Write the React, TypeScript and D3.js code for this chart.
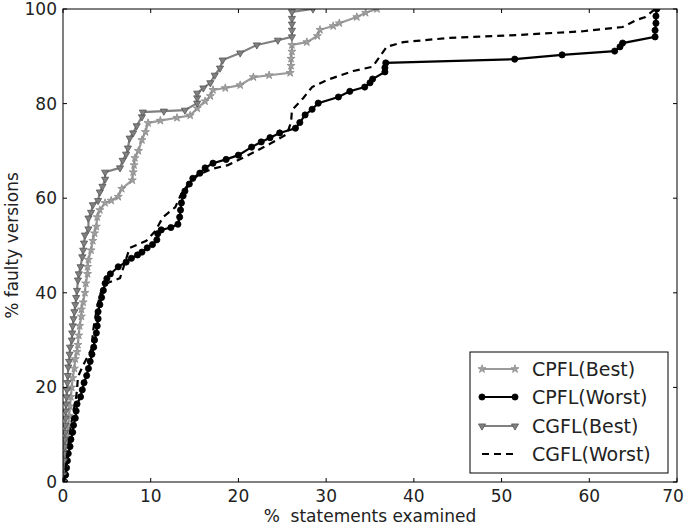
import React from "react";
import * as d3 from "d3";

// axis ticks
const xTicks = [0, 10, 20, 30, 40, 50, 60, 70];
const yTicks = [0, 20, 40, 60, 80, 100];

// [% statements examined, % faulty versions]
const cpflBest: [number, number][] = [
  [0, 0], [0.1, 2], [0.2, 4], [0.3, 6], [0.4, 8], [0.5, 10], [0.6, 12], [0.7, 14], [0.8, 16],
  [0.9, 18], [1.0, 20], [1.1, 22], [1.3, 24], [1.4, 26], [1.6, 27.5], [1.7, 29], [1.8, 31],
  [1.9, 33], [2.1, 35], [2.1, 36.5], [2.3, 38], [2.5, 40], [2.6, 42], [2.8, 44], [2.8, 45.5],
  [2.9, 47], [3.2, 49], [3.4, 51], [3.6, 52.6], [3.8, 54], [3.9, 56], [4.2, 57.5], [4.8, 59],
  [5.5, 59.5], [6.3, 60.3], [6.7, 62], [7.9, 63.8], [8.0, 65.5], [8.1, 67], [8.2, 68.5],
  [8.6, 70], [9.0, 72.3], [9.4, 74], [9.7, 75.9], [11.1, 76.4], [13.0, 77], [14.5, 77.5],
  [15.3, 79], [16.2, 80.5], [16.8, 81.6], [17.1, 82.9], [18.5, 83.3], [20.2, 83.9],
  [21.7, 85.6], [23.5, 86], [25.9, 86.5], [26.0, 88], [26.0, 89.5], [26.1, 91], [26.1, 92.4],
  [27.8, 93], [29.0, 94.3], [29.3, 95.6], [30.8, 96.4], [31.5, 97], [33.5, 98.3], [34.5, 99.2],
  [35.8, 100],
];

const cpflWorst: [number, number][] = [
  [0.2, 0], [0.3, 1.5], [0.4, 3], [0.5, 4.5], [0.6, 6], [0.8, 7.5], [0.9, 9], [1.1, 10.5],
  [1.2, 12], [1.4, 13.5], [1.5, 15], [1.6, 16.5], [2.0, 18], [2.2, 19.5], [2.4, 21], [2.7, 22.5],
  [2.9, 24], [3.1, 25.5], [3.3, 27], [3.5, 28.5], [3.6, 30], [3.8, 31.5], [3.9, 33], [4.0, 34.5],
  [4.0, 36], [4.2, 37.5], [4.4, 39], [4.6, 40.5], [4.8, 42], [5.0, 43], [5.4, 44], [6.3, 45.5],
  [7.2, 46.5], [7.8, 47.3], [8.5, 48], [9.0, 48.6], [9.6, 49.5], [10.2, 50.2], [10.7, 51.2],
  [10.8, 52.5], [11.2, 53.3], [12.3, 53.8], [13.1, 54.5], [13.3, 56], [13.4, 57.5], [13.5, 59],
  [13.7, 60.5], [13.9, 61.5], [14.4, 63], [14.8, 64.2], [15.6, 65.3], [16.2, 66.4], [17.1, 67.4],
  [18.6, 68.2], [20.0, 69.1], [21.5, 70.8], [22.6, 71.9], [23.6, 72.8], [24.7, 73.8],
  [26.5, 74.8], [27.0, 76], [27.6, 77.6], [28.4, 78.8], [29.1, 80.1], [31.4, 81.4], [32.7, 82.6],
  [34.4, 83.5], [35.0, 84.4], [35.3, 85.2], [36.7, 86.7], [36.7, 87.6], [36.8, 88.6],
  [51.5, 89.4], [56.9, 90.3], [62.9, 91.1], [63.5, 92], [63.8, 92.8], [67.5, 94.1], [67.5, 95.5],
  [67.6, 97], [67.6, 98.5], [67.7, 100],
];

const cgflBest: [number, number][] = [
  [0, 0], [0, 1.5], [0.1, 3], [0.1, 4.5], [0.15, 6], [0.2, 7.5], [0.2, 9], [0.25, 10.5],
  [0.25, 12], [0.3, 13.5], [0.3, 15], [0.35, 16.5], [0.4, 18], [0.45, 19.5], [0.5, 21],
  [0.55, 22.5], [0.6, 24.3], [0.7, 25.5], [0.75, 27], [0.8, 28.5], [1.0, 30], [1.05, 31.5],
  [1.1, 33], [1.2, 34.5], [1.3, 36], [1.4, 37.5], [1.5, 39], [1.6, 40.5], [1.7, 42.7], [1.8, 44],
  [2.0, 45.5], [2.2, 47.6], [2.3, 49], [2.4, 50.5], [2.5, 52.2], [2.9, 53.5], [2.9, 55.8],
  [3.2, 57], [3.4, 58.6], [4.0, 59.5], [4.2, 61.3], [4.5, 62.5], [4.8, 64], [4.8, 65.5],
  [6.5, 66.4], [6.8, 68], [7.2, 69.3], [7.4, 70.6], [7.6, 72.7], [8.0, 73.8], [8.4, 75.3],
  [9.0, 77.2], [9.1, 78.2], [11.5, 78.4], [13.9, 78.6], [15.3, 80.1], [15.3, 81.2], [15.3, 82.2],
  [16.0, 83.3], [16.8, 84.4], [17.3, 86], [17.9, 87.5], [18.2, 89.2], [20.2, 90.7], [22.1, 92.4],
  [24.5, 93.4], [26.1, 94.1], [26.1, 95.5], [26.1, 96.8], [26.1, 98], [26.1, 99.4], [28.5, 100],
];

const cgflWorst: [number, number][] = [
  [0.1, 0], [0.3, 3], [0.5, 6], [0.7, 9], [0.9, 12], [1.2, 15], [1.5, 18], [1.6, 19.5],
  [1.7, 22.2], [2.3, 24.7], [2.8, 26.5], [3.3, 28.3], [3.4, 31.5], [3.6, 34], [3.9, 37],
  [4.3, 40], [5.0, 42], [6.5, 43.1], [7.0, 46], [7.6, 49.5], [9.5, 51], [10.5, 53], [11.4, 56],
  [12.8, 58.1], [13.5, 61], [14.5, 63.5], [15.5, 65], [17.0, 66.2], [18.8, 67], [21, 69],
  [23.6, 71.5], [25.5, 73.5], [26.0, 76], [26.1, 78.6], [27.4, 81.2], [28.4, 83.5], [30.1, 85],
  [33.1, 86.9], [35.3, 87.8], [36.9, 92], [38.8, 93], [44.1, 93.9], [51.8, 94.5], [59.3, 95.3],
  [63.8, 96.2], [65.4, 97.7], [66.4, 98.3], [67.5, 100],
];

type Series = {
  name: string;
  data: [number, number][];
  color: string;
  marker: "star" | "circle" | "tri" | null;
  fill: string;
  edge: string;
  dash?: string;
};

const series: Series[] = [
  { name: "CPFL(Best)", data: cpflBest, color: "#9a9a9a", marker: "star", fill: "#a0a0a0", edge: "#8a8a8a" },
  { name: "CPFL(Worst)", data: cpflWorst, color: "#000000", marker: "circle", fill: "#000000", edge: "#000000" },
  { name: "CGFL(Best)", data: cgflBest, color: "#808080", marker: "tri", fill: "#808080", edge: "#555555" },
  { name: "CGFL(Worst)", data: cgflWorst, color: "#000000", marker: null, fill: "none", edge: "none", dash: "7,5" },
];

const W = 685;
const H = 527;
const left = 63;
const right = 677;
const top = 9;
const bottom = 482;

const FONT = "'DejaVu Sans', sans-serif";

const symbolPath = (m: Series["marker"]) => {
  if (m === "star") return d3.symbol(d3.symbolStar, 20)() as string;
  if (m === "circle") return d3.symbol(d3.symbolCircle, 30)() as string;
  if (m === "tri") return d3.symbol(d3.symbolTriangle, 22)() as string;
  return "";
};

const Marker = ({ s, x, y }: { s: Series; x: number; y: number }) => {
  if (!s.marker) return null;
  const rot = s.marker === "tri" ? " rotate(180)" : "";
  return (
    <path
      d={symbolPath(s.marker)}
      transform={`translate(${x},${y})${rot}`}
      fill={s.fill}
      stroke={s.edge}
      strokeWidth={0.8}
    />
  );
};

const App = () => {
  const x = d3.scaleLinear().domain([0, 70]).range([left, right]);
  const y = d3.scaleLinear().domain([0, 100]).range([bottom, top]);
  const line = d3
    .line<[number, number]>()
    .x((d) => x(d[0]))
    .y((d) => y(d[1]));

  const legendRows = [369, 397, 426, 454];

  return (
    <svg
      width={W}
      height={H}
      style={{ position: "absolute", left: 0, top: 0, background: "#fff" }}
      fontFamily={FONT}
    >
      <defs>
        <clipPath id="plot">
          <rect x={left} y={top} width={right - left} height={bottom - top} />
        </clipPath>
      </defs>
      <rect x={0} y={0} width={W} height={H} fill="#fff" />

      {/* series */}
      <g clipPath="url(#plot)">
        {series.map((s) => (
          <g key={s.name}>
            <path
              d={line(s.data) as string}
              fill="none"
              stroke={s.color}
              strokeWidth={2.2}
              strokeDasharray={s.dash}
            />
            {s.data.map((d, i) => (
              <Marker key={i} s={s} x={x(d[0])} y={y(d[1])} />
            ))}
          </g>
        ))}
      </g>

      {/* frame and ticks */}
      <rect x={left} y={top} width={right - left} height={bottom - top} fill="none" stroke="#000" strokeWidth={1} />
      {xTicks.map((t) => (
        <g key={"x" + t}>
          <line x1={x(t)} x2={x(t)} y1={bottom} y2={bottom - 4} stroke="#000" />
          <line x1={x(t)} x2={x(t)} y1={top} y2={top + 4} stroke="#000" />
          <text
            x={t === 70 ? x(t) - 4 : x(t)}
            y={496}
            textAnchor="middle"
            dominantBaseline="central"
            fontSize={17}
            fill="#222"
          >
            {t}
          </text>
        </g>
      ))}
      {yTicks.map((t) => (
        <g key={"y" + t}>
          <line x1={left} x2={left + 4} y1={y(t)} y2={y(t)} stroke="#000" />
          <line x1={right} x2={right - 4} y1={y(t)} y2={y(t)} stroke="#000" />
          <text x={57} y={y(t)} textAnchor="end" dominantBaseline="central" fontSize={17} fill="#222">
            {t}
          </text>
        </g>
      ))}

      <text
        x={(left + right) / 2}
        y={516}
        textAnchor="middle"
        dominantBaseline="central"
        fontSize={17}
        fill="#222"
        style={{ whiteSpace: "pre" }}
      >
        {"%  statements examined"}
      </text>
      <text
        transform={`translate(12,${(top + bottom) / 2}) rotate(-90)`}
        textAnchor="middle"
        dominantBaseline="central"
        fontSize={17}
        fill="#222"
      >
        % faulty versions
      </text>

      {/* legend */}
      <rect x={470} y={352} width={198} height={121} fill="#fff" stroke="#000" strokeWidth={1} />
      {series.map((s, i) => (
        <g key={"lg" + s.name}>
          <line
            x1={482}
            x2={515}
            y1={legendRows[i]}
            y2={legendRows[i]}
            stroke={s.color}
            strokeWidth={2.2}
            strokeDasharray={s.dash}
          />
          <Marker s={s} x={482} y={legendRows[i]} />
          <Marker s={s} x={515} y={legendRows[i]} />
          <text x={532} y={legendRows[i]} dominantBaseline="central" fontSize={19} fill="#222">
            {s.name}
          </text>
        </g>
      ))}
    </svg>
  );
};

export default App;
